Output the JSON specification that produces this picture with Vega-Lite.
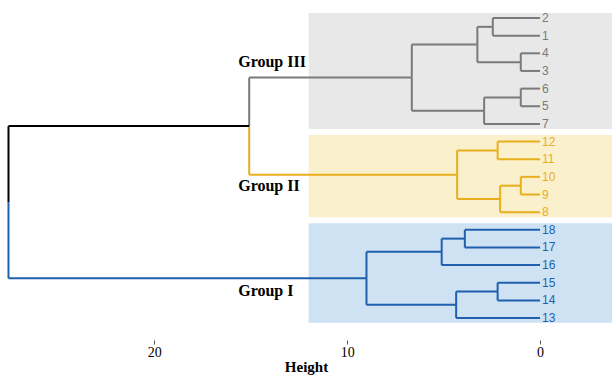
{
  "$schema": "https://vega.github.io/schema/vega-lite/v6.json",
  "width": 612,
  "height": 340,
  "padding": {"left": 0, "right": 0, "top": 0, "bottom": 35},
  "autosize": "none",
  "background": "white",
  "config": {
    "view": {"stroke": null},
    "axisX": {"labelFont": "Liberation Serif", "labelFontSize": 14, "labelColor": "#000000", "titleFont": "Liberation Serif", "titleFontSize": 15, "titleFontWeight": "bold", "titleColor": "#000000"}
  },
  "datasets": {
    "boxes": [
      {"grp": "III", "h1": 12, "h2": -3.73, "y1": 0.72, "y2": 7.29},
      {"grp": "II", "h1": 12, "h2": -3.73, "y1": 7.63, "y2": 12.29},
      {"grp": "I", "h1": 12, "h2": -3.73, "y1": 12.63, "y2": 18.26}
    ],
    "edges": [
      {"grp": "III", "ch": 0, "cy": 1, "ph": 2.45, "py": 1.5},
      {"grp": "III", "ch": 0, "cy": 2, "ph": 2.45, "py": 1.5},
      {"grp": "III", "ch": 0, "cy": 3, "ph": 1.0, "py": 3.5},
      {"grp": "III", "ch": 0, "cy": 4, "ph": 1.0, "py": 3.5},
      {"grp": "III", "ch": 2.45, "cy": 1.5, "ph": 3.25, "py": 2.5},
      {"grp": "III", "ch": 1.0, "cy": 3.5, "ph": 3.25, "py": 2.5},
      {"grp": "III", "ch": 0, "cy": 5, "ph": 1.0, "py": 5.5},
      {"grp": "III", "ch": 0, "cy": 6, "ph": 1.0, "py": 5.5},
      {"grp": "III", "ch": 1.0, "cy": 5.5, "ph": 2.9, "py": 6.25},
      {"grp": "III", "ch": 0, "cy": 7, "ph": 2.9, "py": 6.25},
      {"grp": "III", "ch": 3.25, "cy": 2.5, "ph": 6.65, "py": 4.375},
      {"grp": "III", "ch": 2.9, "cy": 6.25, "ph": 6.65, "py": 4.375},
      {"grp": "III", "ch": 6.65, "cy": 4.375, "ph": 15.08, "py": 7.125},
      {"grp": "II", "ch": 0, "cy": 8, "ph": 2.2, "py": 8.5},
      {"grp": "II", "ch": 0, "cy": 9, "ph": 2.2, "py": 8.5},
      {"grp": "II", "ch": 0, "cy": 10, "ph": 1.0, "py": 10.5},
      {"grp": "II", "ch": 0, "cy": 11, "ph": 1.0, "py": 10.5},
      {"grp": "II", "ch": 1.0, "cy": 10.5, "ph": 2.07, "py": 11.25},
      {"grp": "II", "ch": 0, "cy": 12, "ph": 2.07, "py": 11.25},
      {"grp": "II", "ch": 2.2, "cy": 8.5, "ph": 4.3, "py": 9.875},
      {"grp": "II", "ch": 2.07, "cy": 11.25, "ph": 4.3, "py": 9.875},
      {"grp": "II", "ch": 4.3, "cy": 9.875, "ph": 15.08, "py": 7.125},
      {"grp": "root", "ch": 15.08, "cy": 7.125, "ph": 27.56, "py": 11.4375},
      {"grp": "I", "ch": 0, "cy": 13, "ph": 3.9, "py": 13.5},
      {"grp": "I", "ch": 0, "cy": 14, "ph": 3.9, "py": 13.5},
      {"grp": "I", "ch": 3.9, "cy": 13.5, "ph": 5.1, "py": 14.25},
      {"grp": "I", "ch": 0, "cy": 15, "ph": 5.1, "py": 14.25},
      {"grp": "I", "ch": 0, "cy": 16, "ph": 2.2, "py": 16.5},
      {"grp": "I", "ch": 0, "cy": 17, "ph": 2.2, "py": 16.5},
      {"grp": "I", "ch": 2.2, "cy": 16.5, "ph": 4.35, "py": 17.25},
      {"grp": "I", "ch": 0, "cy": 18, "ph": 4.35, "py": 17.25},
      {"grp": "I", "ch": 5.1, "cy": 14.25, "ph": 9.0, "py": 15.75},
      {"grp": "I", "ch": 4.35, "cy": 17.25, "ph": 9.0, "py": 15.75},
      {"grp": "I", "ch": 9.0, "cy": 15.75, "ph": 27.56, "py": 11.4375}
    ],
    "leaves": [
      {"label": "2", "pos": 1, "grp": "III"},
      {"label": "1", "pos": 2, "grp": "III"},
      {"label": "4", "pos": 3, "grp": "III"},
      {"label": "3", "pos": 4, "grp": "III"},
      {"label": "6", "pos": 5, "grp": "III"},
      {"label": "5", "pos": 6, "grp": "III"},
      {"label": "7", "pos": 7, "grp": "III"},
      {"label": "12", "pos": 8, "grp": "II"},
      {"label": "11", "pos": 9, "grp": "II"},
      {"label": "10", "pos": 10, "grp": "II"},
      {"label": "9", "pos": 11, "grp": "II"},
      {"label": "8", "pos": 12, "grp": "II"},
      {"label": "18", "pos": 13, "grp": "I"},
      {"label": "17", "pos": 14, "grp": "I"},
      {"label": "16", "pos": 15, "grp": "I"},
      {"label": "15", "pos": 16, "grp": "I"},
      {"label": "14", "pos": 17, "grp": "I"},
      {"label": "13", "pos": 18, "grp": "I"}
    ],
    "groups": [
      {"text": "Group III", "h": 15.65, "pos": 3.48},
      {"text": "Group II", "h": 15.65, "pos": 10.52},
      {"text": "Group I", "h": 15.65, "pos": 16.45}
    ]
  },
  "layer": [
    {
      "data": {"name": "boxes"},
      "mark": {"type": "rect"},
      "encoding": {
        "x": {"field": "h1", "type": "quantitative", "scale": {"domain": [-3.73, 28], "reverse": true, "nice": false, "zero": false},
          "axis": {"values": [0, 10, 20], "domain": false, "grid": false, "ticks": true, "tickSize": 4, "tickColor": "#555555", "tickWidth": 1, "labelFont": "Liberation Serif", "labelFontSize": 14, "labelColor": "#000000", "labelPadding": 1, "title": "Height", "titleFont": "Liberation Serif", "titleFontSize": 15, "titleFontWeight": "bold", "titleColor": "#000000", "titlePadding": 0}},
        "x2": {"field": "h2"},
        "y": {"field": "y1", "type": "quantitative", "scale": {"domain": [-0.02, 19.243], "reverse": true, "nice": false, "zero": false}, "axis": null},
        "y2": {"field": "y2"},
        "fill": {"field": "grp", "type": "nominal", "scale": {"domain": ["III", "II", "I"], "range": ["#E8E8E8", "#FBF0CC", "#CEE2F3"]}, "legend": null}
      }
    },
    {
      "data": {"name": "edges"},
      "mark": {"type": "rule", "strokeWidth": 2},
      "encoding": {
        "x": {"field": "ph", "type": "quantitative"},
        "y": {"field": "py", "type": "quantitative"},
        "y2": {"field": "cy"},
        "color": {"field": "grp", "type": "nominal", "scale": {"domain": ["III", "II", "I", "root"], "range": ["#7A7A7A", "#E8AE1C", "#1F5FAD", "#000000"]}, "legend": null}
      }
    },
    {
      "data": {"name": "edges"},
      "mark": {"type": "rule", "strokeWidth": 2},
      "encoding": {
        "x": {"field": "ph", "type": "quantitative"},
        "x2": {"field": "ch"},
        "y": {"field": "cy", "type": "quantitative"},
        "color": {"field": "grp", "type": "nominal", "legend": null}
      }
    },
    {
      "data": {"name": "leaves"},
      "mark": {"type": "text", "align": "left", "baseline": "middle", "dx": 2, "font": "Liberation Sans", "fontSize": 12},
      "encoding": {
        "x": {"datum": 0, "type": "quantitative"},
        "y": {"field": "pos", "type": "quantitative"},
        "text": {"field": "label"},
        "color": {"field": "grp", "type": "nominal", "legend": null}
      }
    },
    {
      "data": {"name": "groups"},
      "mark": {"type": "text", "align": "left", "baseline": "middle", "font": "Liberation Serif", "fontSize": 16, "fontWeight": "bold", "color": "#000000"},
      "encoding": {
        "x": {"field": "h", "type": "quantitative"},
        "y": {"field": "pos", "type": "quantitative"},
        "text": {"field": "text"}
      }
    }
  ],
  "resolve": {"scale": {"color": "shared"}}
}
